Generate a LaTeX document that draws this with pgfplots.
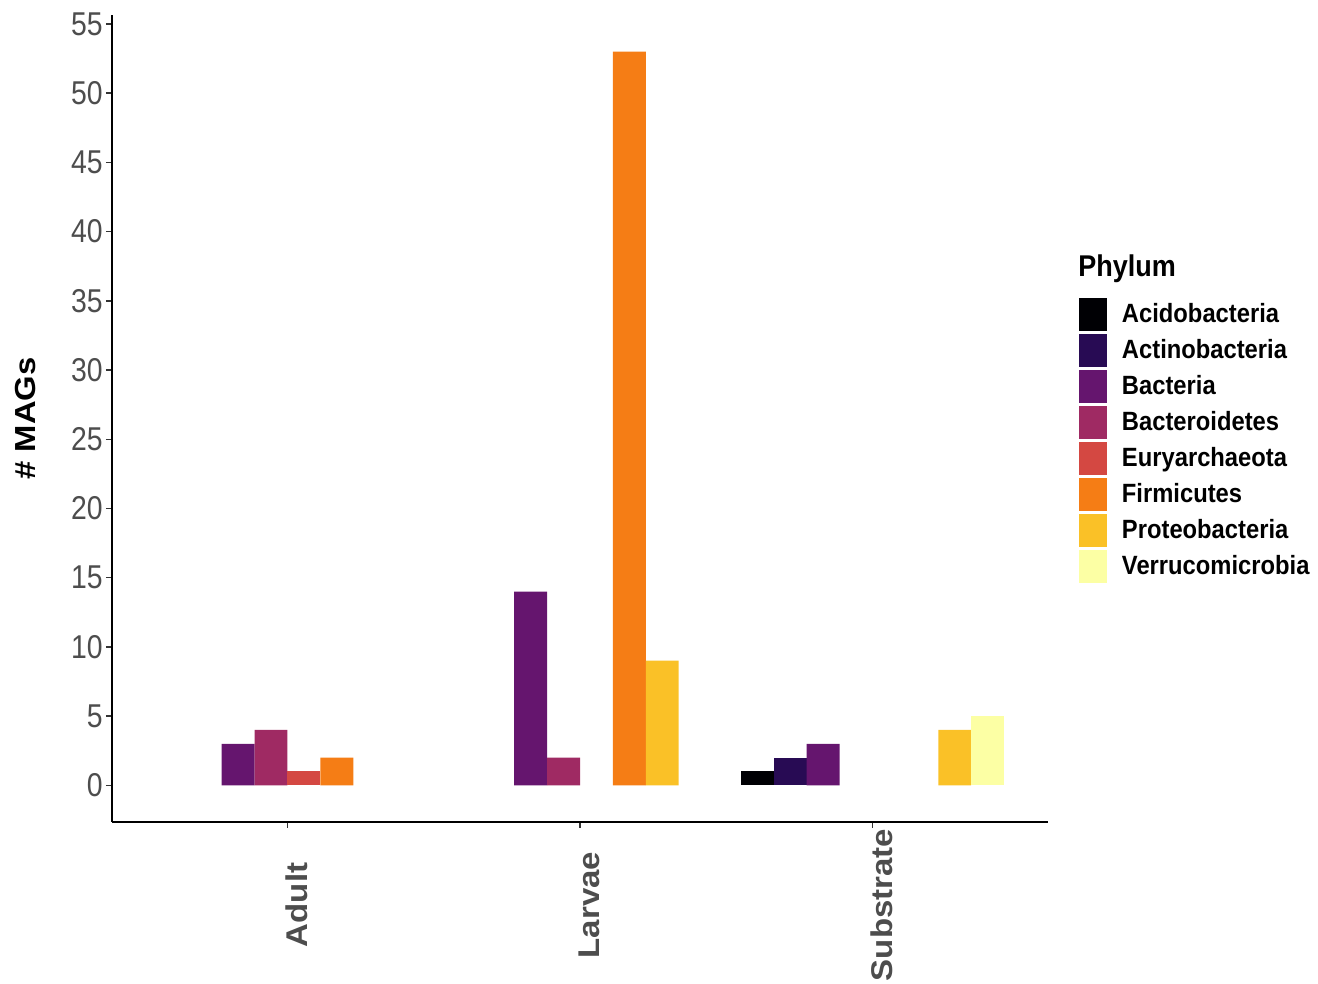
\documentclass[border=0pt]{standalone}
\usepackage{pgfplots}
\pgfplotsset{compat=1.18}
\usepackage{fontspec}
\setmainfont{Liberation Sans}
% narrow faces for horizontal text, wide faces for the rotated labels
\newfontfamily\ticknumfont{Liberation Sans}[FakeStretch=0.86]
\newfontfamily\legendfont{Liberation Sans}[FakeStretch=0.9]
\newfontfamily\xlabfont{Liberation Sans}[FakeStretch=1.1]
\newfontfamily\ylabfont{Liberation Sans}[FakeStretch=1.13]

% inferno palette, 8 steps
\definecolor{cAcido}{HTML}{000004}
\definecolor{cActino}{HTML}{280B54}
\definecolor{cBact}{HTML}{65156E}
\definecolor{cBacter}{HTML}{9F2A63}
\definecolor{cEury}{HTML}{D44842}
\definecolor{cFirm}{HTML}{F57D15}
\definecolor{cProteo}{HTML}{FAC127}
\definecolor{cVerru}{HTML}{FCFFA4}
\definecolor{labelgrey}{HTML}{4D4D4D}
\definecolor{tickgrey}{HTML}{333333}

% one dodged slot is 0.9/8 = 0.1125 x units wide; bars sit at group + slot offset
\pgfplotsset{
  phylum/.style={ybar, bar width=0.1125, bar shift=0pt, fill=#1, draw=none,
    legend image code/.code={\fill[#1] (0pt,-8.25pt) rectangle (14pt,8.25pt);}},
}

\begin{document}
\begin{tikzpicture}
\begin{axis}[
  at={(0,0)}, anchor=south west,
  scale only axis, width=468pt, height=403.5pt,
  xmin=-0.6, xmax=2.6, ymin=-2.65, ymax=55.65,
  axis lines*=left,
  axis line style={line width=0.9pt, black, -},
  xtick={0,1,2}, xticklabels={Adult,Larvae,Substrate},
  ytick={0,5,...,55},
  tick align=outside, major tick length=3pt,
  tick style={line width=0.7pt, color=tickgrey},
  /pgf/number format/assume math mode=true,
  yticklabel style={font=\ticknumfont\fontsize{16.5}{19}\selectfont, text=labelgrey,
    anchor=east, inner sep=0pt, xshift=-1.5pt},
  xticklabel style={font=\xlabfont\fontsize{15}{18}\selectfont\bfseries, text=labelgrey,
    anchor=center, inner sep=0pt, xshift=4.5pt, yshift=-38.5pt, rotate=90},
  ylabel={\# MAGs},
  every axis y label/.style={at={(axis description cs:-0.092,0.5)}, rotate=90,
    anchor=center, font=\ylabfont\fontsize{14.5}{17}\selectfont\bfseries},
  legend cell align=left,
  legend style={at={(axis description cs:1.0331,0.6493)}, anchor=north west,
    draw=none, fill=none, inner sep=0pt, outer sep=0pt,
    /tikz/row sep=1.5pt, /tikz/column sep=7.5pt,
    font=\legendfont\fontsize{13.2}{15}\selectfont\bfseries,
    nodes={inner sep=0pt}},
]
\addplot[phylum=cAcido]   coordinates {(1.60625,1)};
\addlegendentry{Acidobacteria}
\addplot[phylum=cActino]  coordinates {(1.71875,2)};
\addlegendentry{Actinobacteria}
\addplot[phylum=cBact]    coordinates {(-0.16875,3) (0.83125,14) (1.83125,3)};
\addlegendentry{Bacteria}
\addplot[phylum=cBacter]  coordinates {(-0.05625,4) (0.94375,2)};
\addlegendentry{Bacteroidetes}
\addplot[phylum=cEury]    coordinates {(0.05625,1)};
\addlegendentry{Euryarchaeota}
\addplot[phylum=cFirm]    coordinates {(0.16875,2) (1.16875,53)};
\addlegendentry{Firmicutes}
\addplot[phylum=cProteo]  coordinates {(1.28125,9) (2.28125,4)};
\addlegendentry{Proteobacteria}
\addplot[phylum=cVerru]   coordinates {(2.39375,5)};
\addlegendentry{Verrucomicrobia}
\end{axis}
\node[anchor=base west, inner sep=0pt, font=\legendfont\fontsize{15}{18}\selectfont\bfseries]
  at (483pt,272.5pt) {Phylum};
\pgfresetboundingbox
\useasboundingbox (-56pt,-81pt) rectangle (603pt,411pt);
\end{tikzpicture}
\end{document}
